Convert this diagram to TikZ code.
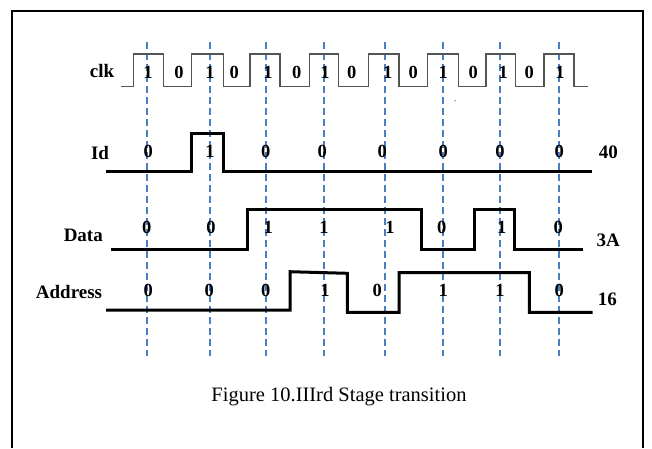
\documentclass[tikz,border=0pt]{standalone}
\usepackage{fontspec}
\setmainfont{Liberation Serif}
\begin{document}
\begin{tikzpicture}[x=1pt,y=-1pt,
  frame/.style={line width=2pt,black},
  guide/.style={line width=2pt,color=guideblue,dash pattern=on 7pt off 4pt},
  clock/.style={line width=1.5pt,color=clockgray,line join=miter},
  signal/.style={line width=3pt,black,line join=miter},
  lbl/.style={inner sep=0pt,font=\fontsize{19}{21}\selectfont\bfseries},
  bit/.style={inner sep=0pt,font=\fontsize{18.5}{20}\selectfont\bfseries},
  caption/.style={inner sep=0pt,font=\fontsize{20.5}{24}\selectfont}]
\definecolor{guideblue}{RGB}{74,126,193}
\definecolor{clockgray}{RGB}{85,85,85}
\useasboundingbox (0,0) rectangle (652,448);
\fill[white] (0,0) rectangle (652,448);

% outer frame (open at the bottom)
\draw[frame] (12,448) -- (12,11) -- (643,11) -- (643,448);

% sampling guides
\foreach \x in {147,210,266,324,385,443,500,559}
  \draw[guide] (\x,42) -- (\x,356);

% clock waveform
\draw[clock] (120.7,86.7)
  -- (133.3,86.7) -- (133.3,54) -- (163.3,54) -- (163.3,86.7)
  -- (191.7,86.7) -- (191.7,54) -- (223.3,54) -- (223.3,86.7)
  -- (250,86.7)   -- (250,54)   -- (280,54)   -- (280,86.7)
  -- (309.3,86.7) -- (309.3,54) -- (338.3,54) -- (338.3,86.7)
  -- (368.3,86.7) -- (368.3,54) -- (399,54)   -- (399,86.7)
  -- (427.3,86.7) -- (427.3,54) -- (458.3,54) -- (458.3,86.7)
  -- (486,86.7)   -- (486,54)   -- (515.7,54) -- (515.7,86.7)
  -- (544,86.7)   -- (544,54)   -- (574,54)   -- (574,86.7)
  -- (588.3,86.7);
\fill[clockgray] (455,100.7) circle (0.7pt);

% Id, Data and Address waveforms
\draw[signal] (106,171) -- (191.7,171) -- (191.7,133.3) -- (223.3,133.3)
  -- (223.3,171) -- (591.7,171);
\draw[signal] (110.7,249.3) -- (247.3,249.3) -- (247.3,209) -- (421.7,209)
  -- (421.7,249.3) -- (474,249.3) -- (474,209) -- (514,209) -- (514,249.3)
  -- (582.7,249.3);
\draw[signal] (106,310) -- (290,310) -- (290,271.7) -- (347.3,273.3)
  -- (347.3,312.3) -- (399,312.3) -- (399,272.7) -- (529.3,272.7)
  -- (529.3,312.3) -- (592.7,312.3);

% row names
\node[lbl] (nclk)  at (102,71)    {clk};
\node[lbl] (nid)   at (100,152.7) {Id};
\node[lbl] (ndata) at (83.3,235.7) {Data};
\node[lbl] (naddr) at (69,292.3)  {Address};

% hex values
\node[lbl] (vid)   at (608.3,152.7) {40};
\node[lbl] (vdata) at (608.3,240.7) {3A};
\node[lbl] (vaddr) at (607.3,299.3) {16};

% clock bits
\foreach \x/\b [count=\i] in {148/1,179/0,210/1,234.3/0,268/1,296.7/0,325/1,351.7/0,
    387.7/1,413.3/0,443.3/1,473.3/0,503.3/1,529.3/0,560/1}
  \node[bit] (c\i) at (\x,72.5) {\b};

% Id bits
\foreach \x/\b [count=\i] in {148.3/0,210/1,265.7/0,322.3/0,382.3/0,443.3/0,500/0,559.3/0}
  \node[bit] (i\i) at (\x,151.7) {\b};

% Data bits
\foreach \x/\b [count=\i] in {146.7/0,211/0,268.3/1,324/1,390/1,441.7/0,501.7/1,558.3/0}
  \node[bit] (d\i) at (\x,227.3) {\b};

% Address bits
\foreach \x/\b [count=\i] in {148.3/0,209.3/0,265.7/0,325/1,377.3/0,443.3/1,500/1,559.3/0}
  \node[bit] (a\i) at (\x,290.7) {\b};

% caption
\node[caption] (cap) at (339,397) {Figure 10.IIIrd Stage transition};
\end{tikzpicture}
\end{document}
